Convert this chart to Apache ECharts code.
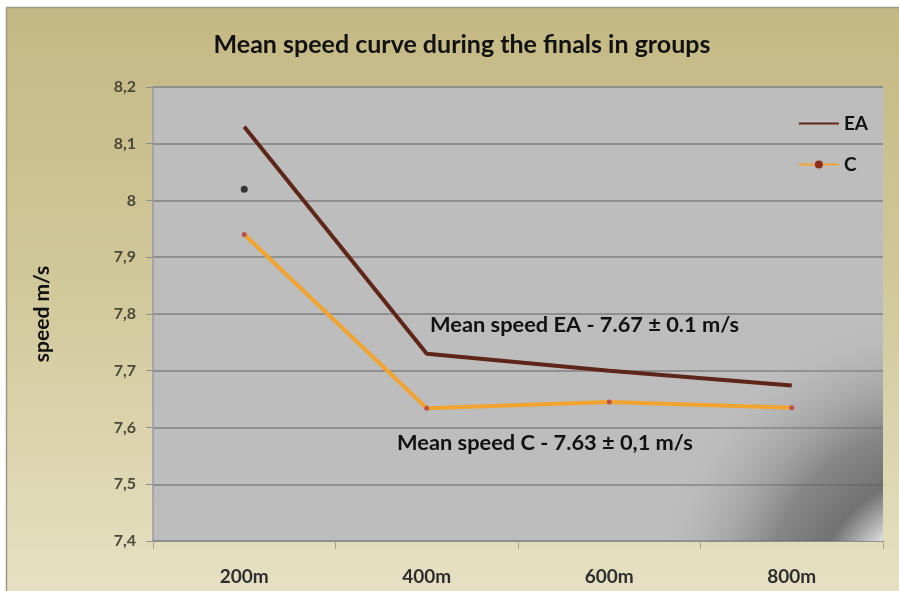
<!DOCTYPE html>
<html><head><meta charset="utf-8">
<script src="https://cdn.jsdelivr.net/npm/echarts@6/dist/echarts.min.js"></script>
<style>html,body{margin:0;padding:0;background:#fff}#c{width:899px;height:591px}</style>
</head><body><div id="c"></div>
<script>
const categories = ['200m', '400m', '600m', '800m'];
const seriesEA = [8.13, 7.73, 7.70, 7.674];
const seriesC = [7.94, 7.634, 7.645, 7.635];
const asterisk = [['200m', 8.02]];
const yMin = 7.4, yMax = 8.2, yStep = 0.1;
const titleText = 'Mean speed curve during the finals in groups';
const noteEA = 'Mean speed EA - 7.67 \u00b1 0.1 m/s';
const noteC = 'Mean speed C - 7.63 \u00b1 0,1 m/s';

const chart = echarts.init(document.getElementById('c'));
const FONT = 'Lato';
chart.setOption({
  animation: false,
  backgroundColor: '#ffffff',
  title: {
    text: titleText, left: 457, textAlign: 'center', top: 27,
    textStyle: { fontFamily: FONT, fontSize: 25, fontWeight: 'bold', color: '#111' }
  },
  graphic: [
    { type: 'rect', z: -10, silent: true,
      shape: { x: 6.5, y: 7.5, width: 900, height: 590 },
      style: { fill: new echarts.graphic.LinearGradient(0, 0, 0, 1, [
        { offset: 0, color: '#C4B984' }, { offset: 0.5, color: '#D2C99C' }, { offset: 1, color: '#E7E1C4' }]),
        stroke: '#9C9884', lineWidth: 1.5 } },
    { type: 'rect', z: 1, silent: true,
      shape: { x: 500, y: 240, width: 383, height: 301 },
      style: { fill: new echarts.graphic.RadialGradient(945, 605, 330, [
        { offset: 0, color: 'rgba(242,242,242,1)' },
        { offset: 0.27, color: 'rgba(228,228,228,0.92)' },
        { offset: 0.4, color: 'rgba(95,95,95,0.8)' },
        { offset: 0.55, color: 'rgba(105,105,105,0.65)' },
        { offset: 0.72, color: 'rgba(145,145,145,0.35)' },
        { offset: 0.9, color: 'rgba(189,189,189,0)' },
        { offset: 1, color: 'rgba(189,189,189,0)' }], true) } },
    { type: 'text', z: 5, left: 430, top: 314,
      style: { text: noteEA, fontFamily: FONT, fontSize: 21.8, fontWeight: 'bold', fill: '#111' } },
    { type: 'text', z: 5, left: 397, top: 432,
      style: { text: noteC, fontFamily: FONT, fontSize: 21.8, fontWeight: 'bold', fill: '#111' } }
  ],
  legend: {
    data: [{ name: 'EA', itemStyle: { opacity: 0 } }, { name: 'C', itemStyle: { color: '#8B2E1E' } }],
    orient: 'vertical', right: 26, top: 109,
    itemWidth: 40, itemHeight: 10, itemGap: 22,
    textStyle: { fontFamily: FONT, fontSize: 19, fontWeight: 'bold', color: '#111' }
  },
  grid: { left: 153, right: 16, top: 87, bottom: 50, show: true,
    backgroundColor: '#BDBDBD', borderWidth: 0 },
  xAxis: {
    type: 'category', data: categories, boundaryGap: true,
    axisLine: { show: true, lineStyle: { color: '#8E8E8E', width: 1.5 } },
    axisTick: { show: true, length: 8, lineStyle: { color: '#A5A38E' } },
    axisLabel: { margin: 26, fontFamily: FONT, fontSize: 19, fontWeight: 'bold', color: '#2E2E2E' },
    splitLine: { show: false }
  },
  yAxis: {
    type: 'value', min: yMin, max: yMax, interval: yStep,
    name: 'speed m/s', nameLocation: 'middle', nameGap: 100, nameRotate: 90,
    nameTextStyle: { fontFamily: FONT, fontSize: 21, fontWeight: 'bold', color: '#111' },
    axisLine: { show: true, lineStyle: { color: '#9A9AA8', width: 1.5 } },
    axisTick: { show: true, length: 7, lineStyle: { color: '#8E8E8E' } },
    axisLabel: { margin: 17, fontFamily: FONT, fontSize: 16, fontWeight: 'bold', color: '#4A4838',
      formatter: v => String(Math.round(v * 10) / 10).replace('.', ',') },
    splitLine: { show: true, lineStyle: { color: '#8F8F8F', width: 2 } }
  },
  series: [
    { name: 'EA', type: 'line', data: seriesEA, z: 3,
      symbol: 'none',
      itemStyle: { color: '#5A2419' },
      lineStyle: { color: '#5E2519', width: 4 } },
    { name: 'C', type: 'line', data: seriesC, z: 3,
      symbol: 'circle', symbolSize: 5, showSymbol: true,
      itemStyle: { color: '#C0504D' },
      lineStyle: { color: '#F2A431', width: 4 } },
    { name: 'sig', type: 'scatter', data: asterisk, z: 4, symbolSize: 7,
      itemStyle: { color: '#111' }, silent: true }
  ]
});
</script></body></html>
